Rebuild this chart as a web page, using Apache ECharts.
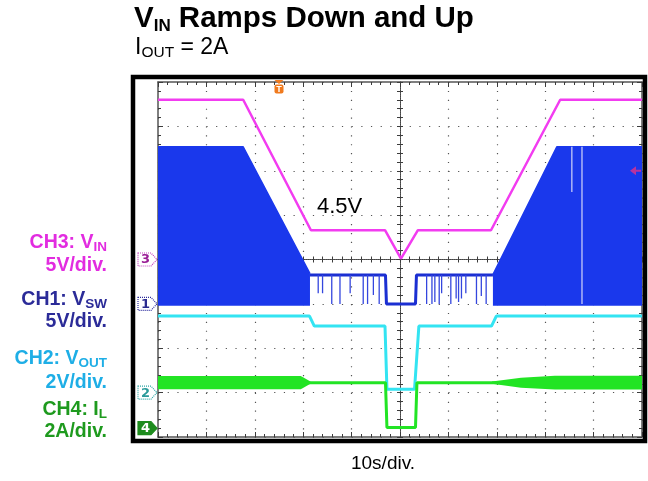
<!DOCTYPE html>
<html><head><meta charset="utf-8">
<script src="https://cdn.jsdelivr.net/npm/echarts@6/dist/echarts.min.js"></script>
<style>html,body{margin:0;padding:0;background:#fff}#c{width:648px;height:481px}</style>
</head><body><div id="c"></div>
<script>
// ---------------- data (time in s, 10 s/div) ----------------
const timeMin = 0, timeMax = 100, timeDiv = 10;
// CH3: VIN (V), 5 V/div, ground marker at 0 div
const vinScale = 5, vinOffset = 0;
const vinT = [0, 17.6, 31.6, 46.9, 50.2, 53.7, 68.8, 83.1, 100];
const vinV = [18.0, 18.0, 3.3, 3.3, 0.1, 3.3, 3.3, 18.0, 18.0];
// CH1: VSW (V), 5 V/div, ground marker at -1 div
const vswScale = 5, vswOffset = -1;
const vswEnvLeftT = [0, 17.6, 31.4];
const vswEnvLeftV = [17.7, 17.7, 3.4];
const vswEnvRightT = [69.2, 82.4, 100];
const vswEnvRightV = [3.3, 17.7, 17.7];
const vswFlatT = [31.4, 47.0, 47.2, 53.2, 53.4, 69.2];
const vswFlatV = [3.25, 3.25, 0.0, 0.0, 3.25, 3.25];
const vswSpikeT = [33.1, 34.0, 35.9, 37.6, 39.7, 42.4, 43.3, 44.5, 45.7, 55.5, 56.6, 57.2, 58.1, 58.6, 60.5, 61.6, 62.1, 62.7, 63.6, 65.8, 66.8, 67.8];
const vswSpikeV = [1.2, 1.2, 0, 0, 1.2, 0, 0, 1.0, 0, 0, 0, 0.2, 0, 1.2, 0, 0.6, 0.2, 0.6, 1.2, 0, 0.9, 0];
const vswGapT = [85.5, 87.6];
const vswGapTop = [17.7, 17.7];
const vswGapBot = [12.6, 0];
// CH2: VOUT (V), 2 V/div, ground marker at -3 div
const voutScale = 2, voutOffset = -3;
const voutT = [0, 31.3, 32.3, 46.9, 47.3, 53.0, 53.9, 68.9, 69.9, 100];
const voutV = [3.45, 3.45, 3.0, 3.0, 0.15, 0.15, 3.0, 3.0, 3.45, 3.45];
// CH4: IL (A), 2 A/div, ground marker at -3.8 div
const ilScale = 2, ilOffset = -3.8;
const ilT = [0, 47.0, 47.3, 53.2, 53.5, 100];
const ilA = [2.05, 2.05, 0.03, 0.03, 2.05, 2.05];
const ilLevel = 2.05;
const ilRipT = [0, 29.5, 31.5, null, 69.0, 75.0, 82.0, 100];
const ilRipA = [0.6, 0.6, 0.1, null, 0.1, 0.45, 0.62, 0.62];
// trigger
const trigT = 25.0;
const trigLevelVin = 10;
// texts
const titleMain = ['V', 'IN', ' Ramps Down and Up'];
const titleSub = ['I', 'OUT', ' = 2A'];
const chLabels = [
  ['CH3: V', 'IN', '5V/div.'],
  ['CH1: V', 'SW', '5V/div.'],
  ['CH2: V', 'OUT', '2V/div.'],
  ['CH4: I', 'L', '2A/div.']
];
const xScaleLabel = '10s/div.';
const levelNote = '4.5V';

// ---------------- helpers ----------------
const FONT = '"Liberation Sans", Arial, Helvetica, sans-serif';
const toDiv = (v, s, o) => v / s + o;
const pairs = (ts, vs, s, o) => ts.map((t, i) => [t, toDiv(vs[i], s, o)]);

const C_VIN = '#F23CF0', C_VSW = '#1A38EC', C_VSWLINE = '#1B2FD2', C_VOUT = '#33E4F2', C_IL = '#22E424';
const L_VIN = '#E22CE0', L_VSW = '#2B2B98', L_VOUT = '#1EAEE6', L_IL = '#1E9A1E';

const flatDiv = toDiv(vswFlatV[0], vswScale, vswOffset);
const spikeData = [];
vswSpikeT.forEach((t, i) => {
  spikeData.push([t, flatDiv], [t, toDiv(vswSpikeV[i], vswScale, vswOffset)], [t, '-']);
});
const gapData = [];
vswGapT.forEach((t, i) => {
  gapData.push([t, toDiv(vswGapTop[i], vswScale, vswOffset)], [t, toDiv(vswGapBot[i], vswScale, vswOffset)], [t, '-']);
});

const tickColor = '#3c3c3c';
function xAx(position, offset, inside, split, center) {
  return {
    type: 'value', min: timeMin, max: timeMax, interval: timeDiv, position, offset,
    axisLine: { show: true, onZero: false, lineStyle: { color: center ? '#444' : '#555', width: center ? 1 : 1.5, type: center ? [1, 1] : 'solid' } },
    axisTick: { show: true, inside, length: center ? 3 : 5, lineStyle: { color: tickColor } },
    minorTick: { show: true, splitNumber: 5, length: 3, lineStyle: { color: tickColor } },
    axisLabel: { show: false },
    splitLine: { show: split, lineStyle: { color: '#555', width: 1.2, type: [1.2, 7.68] } },
    minorSplitLine: { show: false }
  };
}
function yAx(position, offset, inside, split, center) {
  return {
    type: 'value', min: -4, max: 4, interval: 1, position, offset,
    axisLine: { show: true, onZero: false, lineStyle: { color: center ? '#444' : '#555', width: center ? 1 : 1.5, type: center ? [1, 1] : 'solid' } },
    axisTick: { show: true, inside, length: center ? 3 : 5, lineStyle: { color: tickColor } },
    minorTick: { show: true, splitNumber: 5, length: 3, lineStyle: { color: tickColor } },
    axisLabel: { show: false },
    splitLine: { show: split, lineStyle: { color: '#555', width: 1.2, type: [1.2, 8.48] } },
    minorSplitLine: { show: false }
  };
}

const chart = echarts.init(document.getElementById('c'), null, { renderer: 'canvas', width: 648, height: 481 });

const base = { type: 'line', xAxisIndex: 0, yAxisIndex: 0, showSymbol: false, symbol: 'none', silent: true, animation: false, connectNulls: false };

chart.setOption({
  animation: false,
  backgroundColor: '#ffffff',
  grid: { left: 158, top: 82, width: 484, height: 355, outerBoundsMode: 'none', containLabel: false },
  xAxis: [xAx('bottom', 0, true, true, false), xAx('top', 0, true, false, false), xAx('bottom', -177.5, true, false, true), xAx('bottom', -177.5, false, false, true)],
  yAxis: [yAx('left', 0, true, true, false), yAx('right', 0, true, false, false), yAx('left', -242, true, false, true), yAx('left', -242, false, false, true)],
  series: [
    Object.assign({}, base, { name: 'VSW L', data: pairs(vswEnvLeftT, vswEnvLeftV, vswScale, vswOffset), lineStyle: { color: C_VSW, width: 1.5 }, areaStyle: { color: C_VSW, opacity: 1, origin: vswOffset - 0.04 }, z: 2 }),
    Object.assign({}, base, { name: 'VSW R', data: pairs(vswEnvRightT, vswEnvRightV, vswScale, vswOffset), lineStyle: { color: C_VSW, width: 1.5 }, areaStyle: { color: C_VSW, opacity: 1, origin: vswOffset - 0.04 }, z: 2 }),
    Object.assign({}, base, { name: 'VSW gaps', data: gapData, lineStyle: { color: '#AEB6F6', width: 1.5 }, z: 3 }),
    Object.assign({}, base, { name: 'VSW flat', data: pairs(vswFlatT, vswFlatV, vswScale, vswOffset), lineStyle: { color: C_VSWLINE, width: 3 }, z: 3 }),
    Object.assign({}, base, { name: 'VSW spikes', data: spikeData, lineStyle: { color: '#3446DE', width: 1.3 }, z: 3 }),
    Object.assign({}, base, { name: 'VOUT', data: pairs(voutT, voutV, voutScale, voutOffset), lineStyle: { color: C_VOUT, width: 3 }, z: 4 }),
    {
      type: 'custom', name: 'IL ripple', xAxisIndex: 0, yAxisIndex: 0, silent: true, animation: false, z: 4,
      data: [0],
      renderItem: function (params, api) {
        const segs = []; let cur = [];
        ilRipT.forEach((t, i) => { if (t === null) { if (cur.length) segs.push(cur); cur = []; } else cur.push([t, ilRipA[i]]); });
        if (cur.length) segs.push(cur);
        const children = segs.map(seg => {
          const up = seg.map(p => api.coord([p[0], toDiv(ilLevel + p[1] / 2, ilScale, ilOffset)]));
          const dn = seg.slice().reverse().map(p => api.coord([p[0], toDiv(ilLevel - p[1] / 2, ilScale, ilOffset)]));
          return { type: 'polygon', shape: { points: up.concat(dn) }, style: { fill: C_IL } };
        });
        return { type: 'group', children };
      }
    },
    Object.assign({}, base, { name: 'IL', data: pairs(ilT, ilA, ilScale, ilOffset), lineStyle: { color: C_IL, width: 3 }, z: 5 }),
    Object.assign({}, base, { name: 'VIN', data: pairs(vinT, vinV, vinScale, vinOffset), lineStyle: { color: C_VIN, width: 2.5 }, z: 6 })
  ]
});

// ---------------- decorations (positions from the axes) ----------------
const px = (t, d) => chart.convertToPixel({ xAxisIndex: 0, yAxisIndex: 0 }, [t, d]);
const g0 = px(timeMin, 0), gR = px(timeMax, 0);
const gridLeft = g0[0];
const graphics = [];

// scope frame
graphics.push({ type: 'rect', shape: { x: 133, y: 77, width: 512, height: 364 }, style: { fill: 'none', stroke: '#000', lineWidth: 4.5 }, z: 100 });

// channel ground markers
const markers = [
  { n: '3', off: vinOffset, stroke: '#C243BE', fill: '#fff', txt: '#9A1E96' },
  { n: '1', off: vswOffset, stroke: '#2E2E9E', fill: '#fff', txt: '#2A2A8E' },
  { n: '2', off: voutOffset, stroke: '#2EA6A6', fill: '#fff', txt: '#2A9A9A' },
  { n: '4', off: ilOffset, stroke: '#1E8C1E', fill: '#1E8C1E', txt: '#ffffff' }
];
markers.forEach(m => {
  const y = px(0, m.off)[1];
  const x1 = gridLeft - 20, x2 = gridLeft - 7, x3 = gridLeft - 1;
  graphics.push({ type: 'polygon', shape: { points: [[x1, y - 6.5], [x2, y - 6.5], [x3, y], [x2, y + 6.5], [x1, y + 6.5]] }, style: { fill: m.fill, stroke: m.stroke, lineWidth: 1.2, lineDash: m.fill === '#fff' ? [1, 1] : null }, z: 90 });
  graphics.push({ type: 'text', x: x1 + 7.5, y: y + 0.5, style: { text: m.n, fill: m.txt, font: 'bold 13px "DejaVu Sans", sans-serif', align: 'center', verticalAlign: 'middle' }, z: 91 });
});

// trigger position marker (top)
const tx = px(trigT, 0)[0];
graphics.push({ type: 'polygon', shape: { points: [[tx - 4.5, 80], [tx + 4.5, 80], [tx, 84]] }, style: { fill: '#F07A1E' }, z: 95 });
graphics.push({ type: 'rect', shape: { x: tx - 4.5, y: 84.5, width: 9, height: 9, r: 2 }, style: { fill: '#F07A1E' }, z: 95 });
graphics.push({ type: 'text', x: tx, y: 89.3, style: { text: 'T', fill: '#fff', font: 'bold 9px "Liberation Sans", Arial', align: 'center', verticalAlign: 'middle' }, z: 96 });

// trigger level arrow (right)
const ty = px(0, toDiv(trigLevelVin, vinScale, vinOffset))[1];
const rx = gR[0];
graphics.push({ type: 'polygon', shape: { points: [[rx - 12, ty], [rx - 6, ty - 4.5], [rx - 6, ty + 4.5]] }, style: { fill: '#B8339E' }, z: 95 });
graphics.push({ type: 'line', shape: { x1: rx - 7, y1: ty, x2: rx - 1, y2: ty }, style: { stroke: '#B8339E', lineWidth: 2 }, z: 95 });

// title & subtitle
graphics.push({ type: 'text', x: 134, y: 3, style: {
  text: '{b|' + titleMain[0] + '}{s|' + titleMain[1] + '}{b|' + titleMain[2] + '}',
  rich: { b: { fontSize: 29.5, fontWeight: 'bold', fontFamily: FONT, lineHeight: 32, fill: '#000' }, s: { fontSize: 17, fontWeight: 'bold', fontFamily: FONT, lineHeight: 22, verticalAlign: 'bottom', fill: '#000' } },
  verticalAlign: 'top', align: 'left' }, z: 100 });
graphics.push({ type: 'text', x: 135, y: 35, style: {
  text: '{n|' + titleSub[0] + '}{s|' + titleSub[1] + '}{n|' + titleSub[2] + '}',
  rich: { n: { fontSize: 23, fontFamily: FONT, lineHeight: 26, fill: '#000' }, s: { fontSize: 15.5, fontFamily: FONT, lineHeight: 19, verticalAlign: 'bottom', fill: '#000' } },
  verticalAlign: 'top', align: 'left' }, z: 100 });

// channel labels
const labelCols = [L_VIN, L_VSW, L_VOUT, L_IL];
const labelY = [[243, 266], [300, 322], [359, 383], [410, 432]];
chLabels.forEach((l, i) => {
  graphics.push({ type: 'text', x: 107, y: labelY[i][0], style: {
    text: '{m|' + l[0] + '}{s|' + l[1] + '}',
    rich: { m: { fontSize: 19.5, fontWeight: 'bold', fontFamily: FONT, lineHeight: 22, fill: labelCols[i] }, s: { fontSize: 13.5, fontWeight: 'bold', fontFamily: FONT, lineHeight: 16, verticalAlign: 'bottom', fill: labelCols[i] } },
    align: 'right', verticalAlign: 'middle' }, z: 100 });
  graphics.push({ type: 'text', x: 107, y: labelY[i][1], style: { text: l[2], fill: labelCols[i], font: 'bold 19.5px ' + FONT, align: 'right', verticalAlign: 'middle' }, z: 100 });
});

// annotations
graphics.push({ type: 'text', x: 317, y: 207, style: { text: levelNote, fill: '#000', font: '22px ' + FONT, align: 'left', verticalAlign: 'middle' }, z: 100 });
graphics.push({ type: 'text', x: (gridLeft + rx) / 2 - 17, y: 464, style: { text: xScaleLabel, fill: '#000', font: '19px ' + FONT, align: 'center', verticalAlign: 'middle' }, z: 100 });

chart.setOption({ graphic: graphics });
</script>
</body></html>
